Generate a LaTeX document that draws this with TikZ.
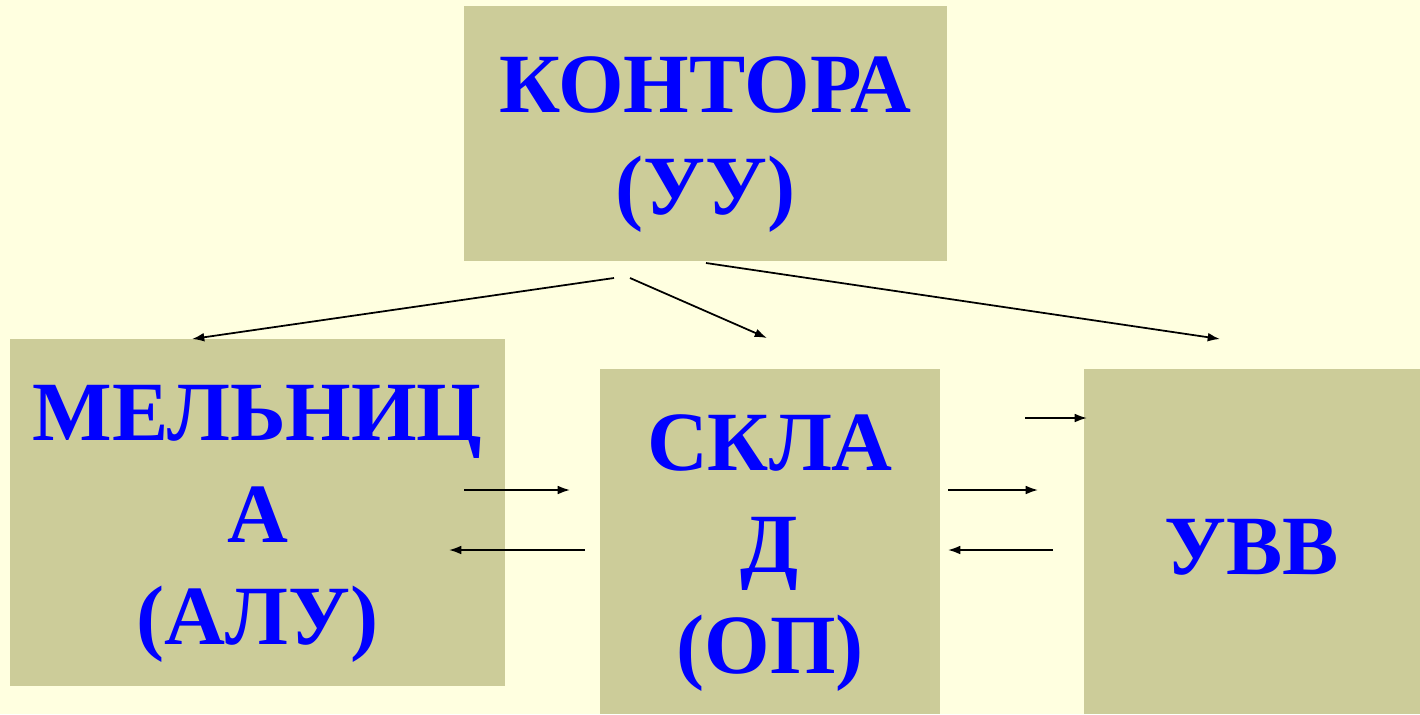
\documentclass[tikz,border=0pt]{standalone}
\usepackage{fontspec}
\setmainfont{Liberation Serif}
\usetikzlibrary{arrows.meta, positioning}
\definecolor{bgyellow}{RGB}{255,255,224}
\definecolor{boxkhaki}{RGB}{204,204,153}
\definecolor{txtblue}{RGB}{0,0,255}

\begin{document}
\begin{tikzpicture}[x=0.02cm, y=-0.02cm, >={Latex[length=7pt,width=5pt]}]%

            \tikzstyle{blk} = [ rectangle, fill = boxkhaki, inner sep = 0pt, align = center, text = txtblue, font = \fontsize{48}{58}\selectfont\bfseries]
            \tikzstyle{post} = [ ->, line width = 1pt, black]
        %
            \fill[bgyellow] (0,0) rectangle (1420,714);
            \useasboundingbox (0,0) rectangle (1420,714);

            %% Blocks
            \node [blk, minimum width = 9.66cm, minimum height = 5.1cm] (kontora) at (705.5,133.5) {\rule{0pt}{44pt}КОНТОРА\\(УУ)};
            \node [blk, minimum width = 9.9cm, minimum height = 6.94cm] (melnica) at (257.5,512.5) {\rule{0pt}{44pt}МЕЛЬНИЦ\\А\\(АЛУ)};
            \node [blk, minimum width = 6.8cm, minimum height = 6.9cm] (sklad) at (770,541.5) {\rule{0pt}{45pt}СКЛА\\Д\\(ОП)};
            \node [blk, minimum width = 6.72cm, minimum height = 6.9cm] (uvv) at (1252,541.5) {\rule{0pt}{38pt}УВВ};

            %% Arrow ends
            \coordinate (k_l) at (614,278);
            \coordinate (k_m) at (630,278);
            \coordinate (k_r) at (706,263);
            \coordinate (m_in) at (192,339);
            \coordinate (s_in) at (767,338);
            \coordinate (u_in) at (1220,339);

            \draw[post] (k_l) -- (m_in);
            \draw[post] (k_m) -- (s_in);
            \draw[post] (k_r) -- (u_in);

            %% Data lines
            \coordinate (u_top_a) at (1025,418);
            \coordinate (u_top_b) at (1087,418);
            \coordinate (ms_a) at (464,490);
            \coordinate (ms_b) at (570,490);
            \coordinate (sm_a) at (585,550);
            \coordinate (sm_b) at (449,550);
            \coordinate (su_a) at (948,490);
            \coordinate (su_b) at (1038,490);
            \coordinate (us_a) at (1053,550);
            \coordinate (us_b) at (948,550);

            \draw[post] (u_top_a) -- (u_top_b);
            \draw[post] (ms_a) -- (ms_b);
            \draw[post] (sm_a) -- (sm_b);
            \draw[post] (su_a) -- (su_b);
            \draw[post] (us_a) -- (us_b);

        \end{tikzpicture}
\end{document}
